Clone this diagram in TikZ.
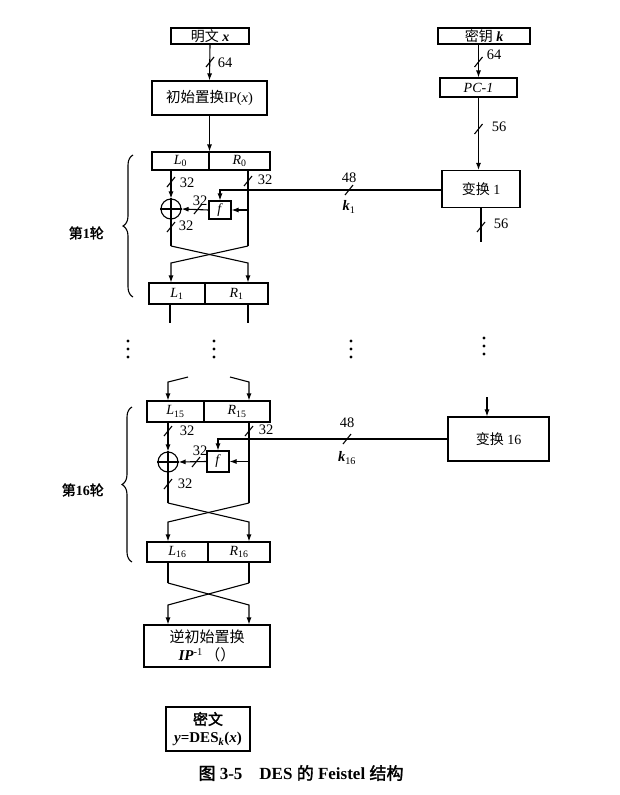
\documentclass[tikz,border=0pt]{standalone}
\usepackage{fontspec}
\setmainfont{Liberation Serif}
\newfontfamily\cjk[AutoFakeBold=2]{Noto Sans CJK SC}
\usetikzlibrary{arrows.meta,decorations.pathreplacing}
\newcommand\slsh[1]{\draw[ln] (#1) ++(-4,5) -- ++(8,-10);}
\begin{document}
\begin{tikzpicture}[x=1pt,y=-1pt,
  box/.style={draw, line width=1.1pt, inner sep=0pt, align=center, font=\fontsize{14}{16}\selectfont},
  ln/.style={line width=1.1pt},
  arr/.style={line width=1.1pt,-{Latex[length=7pt,width=5pt]}},
  lab/.style={inner sep=0pt, font=\fontsize{14.5}{14.5}\selectfont},
  xorc/.style={draw, circle, line width=1.1pt, minimum size=20pt, inner sep=0pt},
  dotc/.style={fill, circle, minimum size=3.4pt, inner sep=0pt},
  brc/.style={line width=1.1pt, decorate, decoration={brace, amplitude=10pt}}]
\useasboundingbox (0,0) rectangle (620,795);
\fill[white] (0,0) rectangle (620,795);

% ---------- top boxes ----------
\node[box, minimum width=78pt, minimum height=16pt] (pt) at (210,36) {{\cjk 明文} \textbf{\textit{x}}};
\node[box, minimum width=115pt, minimum height=34pt, font=\fontsize{14.5}{16}\selectfont] (ip) at (209.5,98) {{\cjk 初始置换}IP(\textit{x})};
\node[box, minimum width=92pt, minimum height=16pt] (key) at (484,36) {{\cjk 密钥} \textbf{\textit{k}}};
\node[box, minimum width=77pt, minimum height=19pt] (pc1) at (478.5,87.5) {\textit{PC-1}};
\node[box, minimum width=78pt, minimum height=37pt] (t1) at (481,189) {{\cjk 变换} 1};
\node[box, minimum width=101pt, minimum height=44pt] (t16) at (498.5,439) {{\cjk 变换} 16};

% ---------- rows ----------
\node[box, minimum width=57pt, minimum height=18pt] (L0) at (180.5,161) {\textit{L}\textsubscript{0}};
\node[box, minimum width=61pt, minimum height=18pt] (R0) at (239.5,161) {\textit{R}\textsubscript{0}};
\node[box, minimum width=56pt, minimum height=21pt] (L1) at (177,293.5) {\textit{L}\textsubscript{1}};
\node[box, minimum width=63pt, minimum height=21pt] (R1) at (236.5,293.5) {\textit{R}\textsubscript{1}};
\node[box, minimum width=57pt, minimum height=21pt] (L15) at (175.5,411.5) {\textit{L}\textsubscript{15}};
\node[box, minimum width=66pt, minimum height=21pt] (R15) at (237,411.5) {\textit{R}\textsubscript{15}};
\node[box, minimum width=61pt, minimum height=20pt] (L16) at (177.5,552) {\textit{L}\textsubscript{16}};
\node[box, minimum width=62pt, minimum height=20pt] (R16) at (239,552) {\textit{R}\textsubscript{16}};
\node[box, minimum width=126pt, minimum height=42pt, font=\fontsize{15}{18}\selectfont] (inv) at (207,646) {{\cjk 逆初始置换}\\\textbf{\textit{IP}}\textsuperscript{-1}\,{\cjk （）}};
\node[box, minimum width=84pt, minimum height=44pt, font=\bfseries\fontsize{15}{18}\selectfont] (ct) at (208,729) {{\cjk 密文}\\\textit{y}=DES\textsubscript{\textit{k}}(\textit{x})};

% ---------- f boxes and xor ----------
\node[box, minimum width=22pt, minimum height=18pt] (f1) at (220,210) {\textit{f}};
\node[xorc] (x1) at (171,209) {};
\draw[ln] (x1.north) -- (x1.south) (x1.west) -- (x1.east);
\node[box, minimum width=22pt, minimum height=21pt] (f16) at (218,461.5) {\textit{f}};
\node[xorc] (x16) at (168,462) {};
\draw[ln] (x16.north) -- (x16.south) (x16.west) -- (x16.east);

% ---------- key schedule ----------
\draw[arr] (pt.south) -- (ip.north);
\slsh{210,62}
\node[lab] (n64a) at (225,63) {64};
\draw[arr] (key.south -| pc1.north) -- (pc1.north);
\slsh{478.5,62}
\node[lab] (n64b) at (494,55) {64};
\draw[arr] (pc1.south) -- (pc1.south |- t1.north);
\slsh{478.5,129}
\node[lab] (n56a) at (499,127) {56};
\coordinate (c56) at (481,242);
\draw[ln] (t1.south) -- (c56);
\slsh{481,227}
\node[lab] (n56b) at (501,224) {56};
\coordinate (t16in) at (487,397);
\draw[arr] (t16in) -- (t16in |- t16.north);

% ---------- round 1 ----------
\draw[arr] (ip.south) -- (ip.south |- L0.north);
\draw[arr] (L0.south -| x1) -- (x1.north);
\slsh{171,182}
\node[lab] (n32a) at (187,183) {32};
\coordinate (r1top) at (248,170);
\coordinate (r1bot) at (248,246);
\coordinate (l1bot) at (171,246);
\draw[ln] (r1top) -- (r1bot);
\slsh{248,181}
\node[lab] (n32b) at (265,180) {32};
\draw[arr] (f1.east -| r1top) -- (f1.east);
\draw[arr] (f1.west) -- (x1.east);
\slsh{198,209}
\node[lab] (n32c) at (200,201) {32};
\draw[ln] (x1.south) -- (l1bot);
\slsh{171,227}
\node[lab] (n32d) at (186,226) {32};
\draw[arr] (t1.west |- 0,190) -- (f1.north |- 0,190) -- (f1.north);
\slsh{349,190}
\node[lab] (n48a) at (349,178) {48};
\node[lab] (k1) at (349,207) {\textbf{\textit{k}}\textsubscript{1}};
\draw[arr] (l1bot) -- (248,263) -- (R1.north -| r1bot);
\draw[arr] (r1bot) -- (171,263) -- (L1.north -| l1bot);
\coordinate (l1out) at (170,323);
\coordinate (r1out) at (248,323);
\draw[ln] (L1.south -| l1out) -- (l1out);
\draw[ln] (R1.south -| r1out) -- (r1out);

% ---------- dots ----------
\foreach \cx/\cy [count=\i] in {128/341, 214/341, 351/341, 484/338}{
  \node[dotc] (da\i) at (\cx,\cy) {};
  \node[dotc] (db\i) at (\cx,\cy+8) {};
  \node[dotc] (dc\i) at (\cx,\cy+16) {};
}

% ---------- round 16 ----------
\coordinate (lin) at (168,382);
\coordinate (rin) at (249,382);
\draw[arr] (188,377) -- (lin) -- (lin |- L15.north);
\draw[arr] (230,377) -- (rin) -- (rin |- R15.north);
\draw[arr] (L15.south -| x16) -- (x16.north);
\slsh{168,431}
\node[lab] (n32e) at (187,431) {32};
\coordinate (r16top) at (249,422);
\coordinate (r16bot) at (249,503);
\coordinate (l16bot) at (168,503);
\draw[ln] (r16top) -- (r16bot);
\slsh{249,431}
\node[lab] (n32f) at (266,430) {32};
\draw[arr] (f16.east -| r16top) -- (f16.east);
\draw[arr] (f16.west) -- (x16.east);
\slsh{196,462}
\node[lab] (n32g) at (200,451) {32};
\draw[ln] (x16.south) -- (l16bot);
\slsh{168,484}
\node[lab] (n32h) at (185,484) {32};
\draw[arr] (t16.west) -- (t16.west -| f16.north) -- (f16.north);
\slsh{347,439}
\node[lab] (n48b) at (347,423) {48};
\node[lab] (k16) at (347,458) {\textbf{\textit{k}}\textsubscript{16}};
\draw[arr] (l16bot) -- (249,522) -- (R16.north -| r16bot);
\draw[arr] (r16bot) -- (168,522) -- (L16.north -| l16bot);

% ---------- final swap ----------
\coordinate (l17) at (168,583);
\coordinate (r17) at (249,583);
\draw[ln] (L16.south -| l17) -- (l17);
\draw[ln] (R16.south -| r17) -- (r17);
\draw[arr] (l17) -- (249,605) -- (inv.north -| r17);
\draw[arr] (r17) -- (168,605) -- (inv.north -| l17);

% ---------- braces ----------
\draw[brc] (133,297) -- (133,155);
\node[lab, anchor=east, font=\bfseries\fontsize{14}{14}\selectfont] (rd1) at (104,233) {{\cjk 第}1{\cjk 轮}};
\draw[brc] (132,562) -- (132,407);
\node[lab, anchor=east, font=\bfseries\fontsize{14}{14}\selectfont] (rd16) at (104,490) {{\cjk 第}16{\cjk 轮}};

% ---------- caption ----------
\node[inner sep=0pt, font=\bfseries\fontsize{17}{17}\selectfont] (cap) at (301,773) {{\cjk 图} 3-5\quad DES {\cjk 的} Feistel {\cjk 结构}};
\end{tikzpicture}
\end{document}
